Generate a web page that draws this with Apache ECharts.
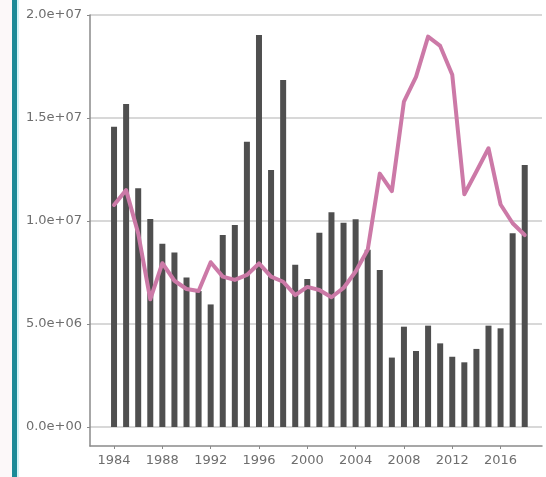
<!DOCTYPE html>
<html>
<head>
<meta charset="utf-8">
<script src="https://cdn.jsdelivr.net/npm/echarts@6/dist/echarts.min.js"></script>
<style>
  html, body { margin: 0; padding: 0; background: #ffffff; }
  #chart { width: 546px; height: 477px; }
</style>
</head>
<body>
<div id="chart"></div>
<script>
// Years shown on the x axis
const years = [1984, 1985, 1986, 1987, 1988, 1989, 1990, 1991, 1992, 1993,
  1994, 1995, 1996, 1997, 1998, 1999, 2000, 2001, 2002, 2003,
  2004, 2005, 2006, 2007, 2008, 2009, 2010, 2011, 2012, 2013,
  2014, 2015, 2016, 2017, 2018];

// Annual totals (bars)
const barValues = [14.58e6, 15.68e6, 11.59e6, 10.1e6, 8.9e6, 8.47e6, 7.26e6, 6.6e6, 5.95e6, 9.32e6,
  9.8e6, 13.85e6, 19.03e6, 12.48e6, 16.84e6, 7.88e6, 7.18e6, 9.43e6, 10.43e6, 9.92e6,
  10.08e6, 8.6e6, 7.62e6, 3.37e6, 4.87e6, 3.69e6, 4.92e6, 4.06e6, 3.41e6, 3.14e6,
  3.79e6, 4.92e6, 4.79e6, 9.4e6, 12.72e6];

// Comparison series (line)
const lineValues = [10.78e6, 11.5e6, 9.4e6, 6.2e6, 7.95e6, 7.1e6, 6.7e6, 6.6e6, 8.0e6, 7.3e6,
  7.14e6, 7.38e6, 7.94e6, 7.3e6, 7.05e6, 6.4e6, 6.8e6, 6.65e6, 6.3e6, 6.75e6,
  7.55e6, 8.6e6, 12.3e6, 11.45e6, 15.8e6, 17.0e6, 18.95e6, 18.5e6, 17.1e6, 11.3e6,
  12.4e6, 13.53e6, 10.8e6, 9.89e6, 9.32e6];

// Tick positions
const xTicks = [1984, 1988, 1992, 1996, 2000, 2004, 2008, 2012, 2016];
const yMin = 0;
const yMax = 2e7;
const yStep = 5e6;

// Scientific notation with a two-digit exponent, e.g. 1.5e+07
function sci(v) {
  const parts = Number(v).toExponential(1).split('e');
  const exp = parseInt(parts[1], 10);
  const sign = exp < 0 ? '-' : '+';
  const digits = String(Math.abs(exp)).padStart(2, '0');
  return parts[0] + 'e' + sign + digits;
}

const textColor = '#6e6e6e';
const axisColor = '#8a8a8a';
const gridColor = '#a8a8a8';
const fontFamily = 'DejaVu Sans';

const chart = echarts.init(document.getElementById('chart'), null, { renderer: 'canvas' });

chart.setOption({
  backgroundColor: '#ffffff',
  animation: false,
  graphic: {
    elements: [
      // left-edge accent strip
      { type: 'rect', z: 0, shape: { x: 0, y: 0, width: 12, height: 477 }, style: { fill: '#fcf8f9' }, silent: true },
      { type: 'rect', z: 0, shape: { x: 12, y: 0, width: 5, height: 477 }, style: { fill: '#1c8a97' }, silent: true },
      { type: 'rect', z: 0, shape: { x: 17, y: 0, width: 2, height: 477 }, style: { fill: '#d4f3f6' }, silent: true }
    ]
  },
  grid: [
    // data area: zero sits a little above the bottom axis line
    { left: 90, right: 4, top: 15, bottom: 50, containLabel: false },
    // full panel frame carrying the left axis line down to the bottom axis
    { left: 90, right: 4, top: 15, bottom: 31, containLabel: false }
  ],
  xAxis: [
    {
      gridIndex: 0,
      type: 'value',
      min: 1982.01,
      max: 2019.43,
      offset: 19,
      axisLine: { show: true, onZero: false, lineStyle: { color: axisColor, width: 1.5 } },
      axisTick: { show: true, length: 3, customValues: xTicks, lineStyle: { color: axisColor } },
      axisLabel: {
        customValues: xTicks,
        color: textColor, fontSize: 13, fontFamily: fontFamily, margin: 8,
        formatter: v => String(v)
      },
      splitLine: { show: false }
    },
    { gridIndex: 1, type: 'value', min: 0, max: 1, show: false }
  ],
  yAxis: [
    {
      gridIndex: 0,
      type: 'value',
      min: yMin,
      max: yMax,
      interval: yStep,
      axisLine: { show: false },
      axisTick: { show: true, length: 3, lineStyle: { color: axisColor } },
      axisLabel: {
        color: textColor, fontSize: 13, fontFamily: fontFamily, margin: 8,
        formatter: v => sci(v)
      },
      splitLine: {
        show: true,
        showMinLine: true,
        showMaxLine: true,
        lineStyle: { color: gridColor, width: 1.5, type: 'solid', opacity: 0.6 }
      }
    },
    {
      gridIndex: 1,
      type: 'value',
      min: 0,
      max: 1,
      axisLine: { show: true, onZero: false, lineStyle: { color: axisColor, width: 1.5 } },
      axisTick: { show: false },
      axisLabel: { show: false },
      splitLine: { show: false }
    }
  ],
  series: [
    {
      type: 'bar',
      xAxisIndex: 0,
      yAxisIndex: 0,
      data: years.map((y, i) => [y, barValues[i]]),
      barWidth: 6,
      itemStyle: { color: '#4f4f4f' },
      z: 2
    },
    {
      type: 'line',
      xAxisIndex: 0,
      yAxisIndex: 0,
      data: years.map((y, i) => [y, lineValues[i]]),
      showSymbol: false,
      symbol: 'none',
      lineStyle: { color: '#cc79a7', width: 4, join: 'round', cap: 'round' },
      z: 3
    }
  ]
});
</script>
</body>
</html>
